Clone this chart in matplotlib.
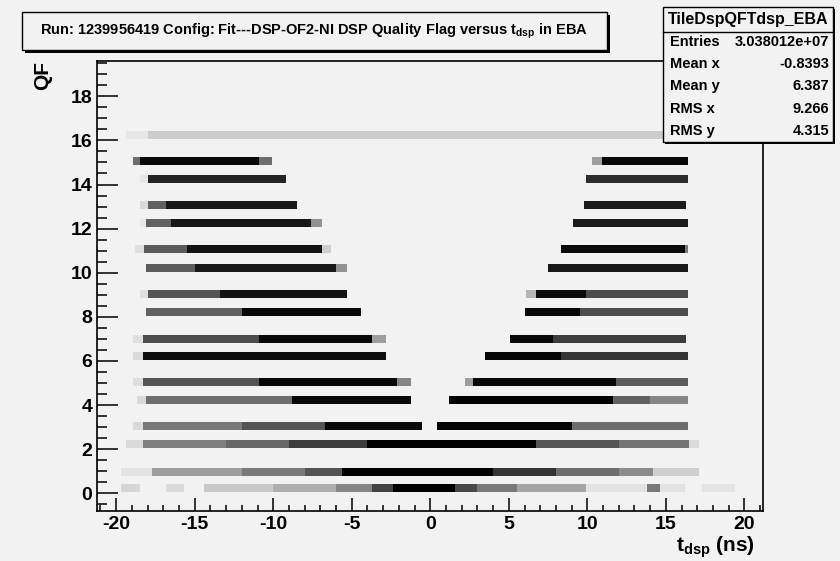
import numpy as np
import matplotlib
matplotlib.use('Agg')
import matplotlib.pyplot as plt
from matplotlib.colors import LinearSegmentedColormap
from matplotlib.patches import Rectangle
from matplotlib.lines import Line2D
from matplotlib.ticker import MultipleLocator

plt.rcParams['font.family'] = ['Liberation Sans', 'DejaVu Sans']
plt.rcParams['font.weight'] = 'bold'
plt.rcParams['axes.unicode_minus'] = False
plt.rcParams['mathtext.fontset'] = 'custom'
plt.rcParams['mathtext.rm'] = 'Liberation Sans:bold'
plt.rcParams['mathtext.it'] = 'Liberation Sans:bold'
plt.rcParams['mathtext.bf'] = 'Liberation Sans:bold'

BG = '#f2f2f2'
W, H = 840, 561

# quality flag value of each band and its position on the y axis
qf_values = list(range(17))
band_y = [0.23, 0.98, 2.23, 3.03, 4.21, 5.03, 6.21, 7.01, 8.23, 9.05,
          10.23, 11.06, 12.27, 13.07, 14.27, 15.07, 16.24]
band_half = 0.18

# fill of each band along t_dsp: (t_start, t_end, occupancy)
band_segments = [
    # QF 0
    [(-19.7, -18.5, 0.12), (-16.8, -15.7, 0.1), (-14.4, -10.0, 0.17), (-10.0, -6.0, 0.28),
     (-6.0, -3.7, 0.45), (-3.7, -2.4, 0.72), (-2.4, 1.6, 1.0), (1.6, 3.0, 0.7),
     (3.0, 5.5, 0.5), (5.5, 9.9, 0.32), (9.9, 13.8, 0.07), (13.8, 14.6, 0.5),
     (14.6, 16.2, 0.07), (17.3, 19.4, 0.06)],
    # QF 1
    [(-19.7, -17.7, 0.07), (-17.7, -12.0, 0.35), (-12.0, -8.0, 0.5), (-8.0, -5.6, 0.65),
     (-5.6, 4.0, 1.0), (4.0, 8.0, 0.78), (8.0, 12.0, 0.55), (12.0, 14.2, 0.42),
     (14.2, 17.1, 0.15)],
    # QF 2
    [(-19.4, -18.3, 0.1), (-18.3, -13.0, 0.48), (-13.0, -9.0, 0.58), (-9.0, -4.0, 0.75),
     (-4.0, 6.7, 1.0), (6.7, 12.0, 0.65), (12.0, 16.5, 0.52), (16.5, 17.1, 0.1)],
    # QF 3
    [(-18.9, -18.3, 0.1), (-18.3, -12.0, 0.5), (-12.0, -6.7, 0.65), (-6.7, -0.5, 0.96),
     (0.36, 9.0, 1.0), (9.0, 16.4, 0.55)],
    # QF 4
    [(-18.7, -18.1, 0.1), (-18.1, -8.8, 0.55), (-8.8, -1.2, 0.96), (1.2, 11.6, 1.0),
     (11.6, 14.0, 0.6), (14.0, 16.4, 0.45)],
    # QF 5
    [(-18.9, -18.3, 0.08), (-18.3, -10.9, 0.65), (-10.9, -2.1, 0.96), (-2.1, -1.2, 0.45),
     (2.2, 2.7, 0.35), (2.7, 11.8, 0.96), (11.8, 16.4, 0.62)],
    # QF 6
    [(-18.9, -18.3, 0.1), (-18.3, -2.8, 0.94), (3.5, 8.3, 0.98), (8.3, 16.4, 0.78)],
    # QF 7
    [(-18.9, -18.3, 0.08), (-18.3, -10.9, 0.68), (-10.9, -3.7, 0.96), (-3.7, -2.8, 0.35),
     (5.1, 7.8, 0.96), (7.8, 16.3, 0.75)],
    # QF 8
    [(-18.1, -12.0, 0.6), (-12.0, -4.4, 0.96), (6.0, 9.5, 0.97), (9.5, 16.4, 0.68)],
    # QF 9
    [(-18.5, -18.0, 0.08), (-18.0, -13.4, 0.65), (-13.4, -5.3, 0.92), (6.1, 6.7, 0.25),
     (6.7, 9.9, 0.95), (9.9, 16.4, 0.68)],
    # QF 10
    [(-18.1, -15.0, 0.62), (-15.0, -6.0, 0.9), (-6.0, -5.3, 0.4), (7.5, 16.4, 0.9)],
    # QF 11
    [(-18.8, -18.2, 0.08), (-18.2, -15.5, 0.62), (-15.5, -6.9, 0.92), (-6.9, -6.3, 0.15),
     (8.3, 16.2, 0.95), (16.2, 16.4, 0.5)],
    # QF 12
    [(-18.5, -18.1, 0.05), (-18.1, -16.5, 0.6), (-16.5, -7.6, 0.9), (-7.6, -6.9, 0.4),
     (9.1, 16.4, 0.88)],
    # QF 13
    [(-18.5, -18.0, 0.1), (-18.0, -16.8, 0.6), (-16.8, -8.5, 0.9), (9.8, 16.3, 0.88)],
    # QF 14
    [(-18.5, -18.0, 0.05), (-18.0, -9.2, 0.85), (9.9, 16.4, 0.82)],
    # QF 15
    [(-18.9, -18.5, 0.55), (-18.5, -10.9, 0.96), (-10.9, -10.1, 0.55), (10.3, 10.9, 0.35),
     (10.9, 16.4, 0.96)],
    # QF 16
    [(-19.4, -18.0, 0.05), (-18.0, 16.5, 0.16)],
]

title_text = r'Run: 1239956419 Config: Fit---DSP-OF2-NI DSP Quality Flag versus $\mathregular{t_{dsp}}$ in EBA'
hist_name = 'TileDspQFTdsp_EBA'
stat_names = ['Entries', 'Mean x', 'Mean y', 'RMS x', 'RMS y']
stat_values = ['3.038012e+07', '-0.8393', '6.387', '9.266', '4.315']


def fx(px):
    return px / W


def fy(py):
    return 1 - py / H


def pave(fig, x0, y0, x1, y1, shadow=3):
    # box with a drop shadow, coordinates in pixels from the top left
    fig.add_artist(Rectangle((fx(x0 + shadow), fy(y1 + shadow)), fx(x1 - x0), (y1 - y0) / H,
                             transform=fig.transFigure, facecolor='black', edgecolor='none'))
    fig.add_artist(Rectangle((fx(x0), fy(y1)), fx(x1 - x0), (y1 - y0) / H,
                             transform=fig.transFigure, facecolor=BG, edgecolor='black', lw=1))


fig = plt.figure(figsize=(W / 100, H / 100), dpi=100, facecolor=BG)
ax = fig.add_axes([fx(97.3), fy(510.7), fx(763.3 - 97.3), (510.7 - 61) / H])
ax.set_facecolor(BG)

# scatter-like bands drawn as occupancy cells along t_dsp
x_edges = np.linspace(-21.2, 21.2, 425)
x_mid = 0.5 * (x_edges[1:] + x_edges[:-1])
occ_cmap = LinearSegmentedColormap.from_list('occ', [BG, 'black'])
for yc, segs in zip(band_y, band_segments):
    occ = np.zeros_like(x_mid)
    for t0, t1, frac in segs:
        occ[(x_mid >= t0) & (x_mid < t1)] = frac
    occ = np.ma.masked_equal(occ, 0)
    ax.pcolormesh(x_edges, [yc - band_half, yc + band_half], occ[None, :],
                  cmap=occ_cmap, vmin=0, vmax=1, shading='flat', antialiased=False)

ax.set_xlim(-21.2, 21.2)
ax.set_ylim(-0.79, 19.6)
ax.xaxis.set_major_locator(MultipleLocator(5))
ax.xaxis.set_minor_locator(MultipleLocator(1))
ax.yaxis.set_major_locator(MultipleLocator(2))
ax.yaxis.set_minor_locator(MultipleLocator(0.5))
ax.tick_params(which='both', direction='in', top=False, right=False, width=1.1, color='black')
ax.tick_params(axis='x', which='major', length=9.4, pad=4, labelsize=14)
ax.tick_params(axis='x', which='minor', length=4.5)
ax.tick_params(axis='y', which='major', length=15, pad=3.5, labelsize=14)
ax.tick_params(axis='y', which='minor', length=7.3)
for sp in ax.spines.values():
    sp.set_linewidth(1.2)

fig.text(fx(755), fy(552), r'$\mathregular{t_{dsp}}$ (ns)', ha='right', va='baseline', fontsize=15)
fig.text(fx(42.5), fy(61), 'QF', rotation=90, ha='center', va='top', fontsize=15)

# title pave
pave(fig, 22, 12, 607, 50)
fig.text(fx(314), fy(31), title_text, ha='center', va='center', fontsize=10.5)

# statistics pave
pave(fig, 663, 7, 833, 142, shadow=2)
fig.add_artist(Line2D([fx(663), fx(833)], [fy(32), fy(32)], transform=fig.transFigure,
                      color='black', lw=1))
fig.text(fx(748), fy(19.5), hist_name, ha='center', va='center', fontsize=11.5)
stat_rows = [42, 63.5, 86, 109, 131]
for yy, name, val in zip(stat_rows, stat_names, stat_values):
    fig.text(fx(670), fy(yy), name, ha='left', va='center', fontsize=10.5)
    fig.text(fx(829), fy(yy), val, ha='right', va='center', fontsize=10.5)

fig.savefig('out.png', dpi=100, facecolor=BG)
